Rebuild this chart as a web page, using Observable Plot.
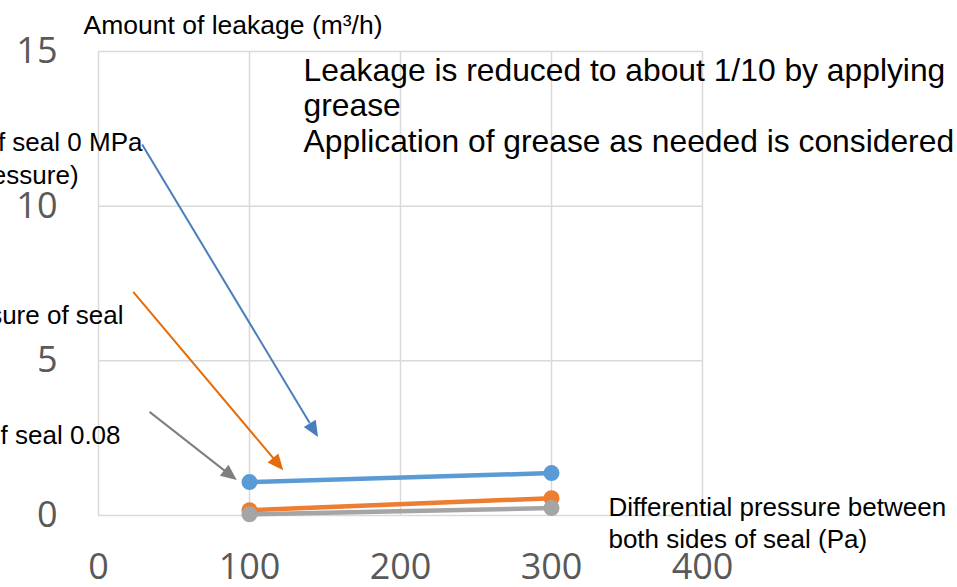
<!DOCTYPE html>
<html>
<head>
<meta charset="utf-8">
<script src="https://cdn.jsdelivr.net/npm/d3@7"></script>
<script src="https://cdn.jsdelivr.net/npm/@observablehq/plot@0.6"></script>
<style>
  html, body { margin: 0; padding: 0; background: #fff; overflow: hidden; }
</style>
</head>
<body>
<div id="chart"></div>
<script>
// ---- data ----
const pressures = [100, 300];                       // Pa
const seriesNames = ["Seal 0 MPa (no pressure)", "Seal pressure", "Seal 0.08"];
const seriesColors = ["#5B9BD5", "#ED7D31", "#A5A5A5"];
const leakBlue = [1.08, 1.37];
const leakOrange = [0.17, 0.56];
const leakGray = [0.04, 0.24];
const xTicks = [0, 100, 200, 300, 400];
const yTicks = [0, 5, 10, 15];

// annotation arrows (data units)
const arrowX1 = [28.9, 23.0, 33.8];
const arrowY1 = [11.99, 7.23, 3.35];
const arrowX2 = [145.7, 122.7, 91.9];
const arrowY2 = [2.52, 1.45, 1.13];
const arrowColors = ["#4A7EBB", "#E46C0A", "#7F7F7F"];

// annotation texts (data units)
const noteLines = ["Leakage is reduced to about 1/10 by applying", "grease", "Application of grease as needed is considered"];
const noteX = [135.8, 135.8, 135.8];
const noteY = [14.06, 12.93, 11.74];
const leftLabels = ["f seal 0 MPa", "essure)", "sure of seal", "f seal 0.08"];
const leftX = [29.1, -13.2, 16.6, 14.6];
const leftY = [11.77, 10.71, 6.19, 2.32];
const yLabel = "Amount of leakage (m³/h)";
const yLabelX = -9.9, yLabelY = 15.58;
const xLabelLines = ["Differential pressure between", "both sides of seal (Pa)"];
const xLabelX = [337.7, 337.7];
const xLabelY = [-0.03, -1.06];

// ---- build tables ----
const allSeries = [leakBlue, leakOrange, leakGray];
const points = allSeries.flatMap((vals, s) => vals.map((v, i) => ({series: seriesNames[s], x: pressures[i], y: v})));
const arrows = arrowX1.map((d, i) => ({x1: arrowX1[i], y1: arrowY1[i], x2: arrowX2[i], y2: arrowY2[i], color: arrowColors[i]}));
const notes = noteLines.map((t, i) => ({t, x: noteX[i], y: noteY[i]}));
const lefts = leftLabels.map((t, i) => ({t, x: leftX[i], y: leftY[i]}));
const xLabels = xLabelLines.map((t, i) => ({t, x: xLabelX[i], y: xLabelY[i]}));

const textFont = "Liberation Sans, Arial, sans-serif";

const arrowHeads = (index, scales) => {
  const g = d3.create("svg:g");
  for (const a of arrows) {
    const px1 = scales.x(a.x1), py1 = scales.y(a.y1);
    const px2 = scales.x(a.x2), py2 = scales.y(a.y2);
    const ang = Math.atan2(py2 - py1, px2 - px1);
    const L = 16, W = 7;
    const bx = px2 - L * Math.cos(ang), by = py2 - L * Math.sin(ang);
    const nx = -Math.sin(ang), ny = Math.cos(ang);
    g.append("path")
      .attr("d", `M${px2},${py2}L${bx + W * nx},${by + W * ny}L${bx - W * nx},${by - W * ny}Z`)
      .attr("fill", a.color);
  }
  return g.node();
};

const chart = Plot.plot({
  width: 957,
  height: 587,
  marginTop: 51,
  marginRight: 255,
  marginBottom: 72,
  marginLeft: 98,
  style: {fontFamily: "'Open Sans', sans-serif", background: "#fff", overflow: "visible"},
  x: {domain: [0, 400]},
  y: {domain: [0, 15]},
  color: {domain: seriesNames, range: seriesColors},
  marks: [
    Plot.gridX(xTicks, {stroke: "#D9D9D9", strokeOpacity: 1, strokeWidth: 1.5}),
    Plot.gridY(yTicks, {stroke: "#D9D9D9", strokeOpacity: 1, strokeWidth: 1.5}),
    Plot.axisY(yTicks, {tickSize: 0, tickPadding: 41, fontSize: 36, fill: "#595959", label: null}),
    Plot.axisX(xTicks, {tickSize: 0, tickPadding: 38, fontSize: 36, fill: "#595959", label: null}),
    Plot.line(points, {x: "x", y: "y", z: "series", stroke: "series", strokeWidth: 4.5}),
    Plot.dot(points, {x: "x", y: "y", fill: "series", r: 8}),
    Plot.link(arrows, {x1: d => d.x1, y1: d => d.y1, x2: d => d.x2 - (d.x2 - d.x1) * 0.05, y2: d => d.y2 - (d.y2 - d.y1) * 0.05, stroke: d => d.color, strokeWidth: 2}),
    arrowHeads,
    Plot.text(notes, {x: "x", y: "y", text: "t", textAnchor: "start", lineAnchor: "bottom", fontSize: 31.8, fill: "#000", fontFamily: textFont}),
    Plot.text(lefts, {x: "x", y: "y", text: "t", textAnchor: "end", lineAnchor: "bottom", fontSize: 26, fill: "#000", fontFamily: textFont}),
    Plot.text([yLabel], {x: () => yLabelX, y: () => yLabelY, text: d => d, textAnchor: "start", lineAnchor: "bottom", fontSize: 26.5, fill: "#000", fontFamily: textFont}),
    Plot.text(xLabels, {x: "x", y: "y", text: "t", textAnchor: "start", lineAnchor: "bottom", fontSize: 26, fill: "#000", fontFamily: textFont})
  ]
});
document.getElementById("chart").appendChild(chart);
</script>
</body>
</html>
